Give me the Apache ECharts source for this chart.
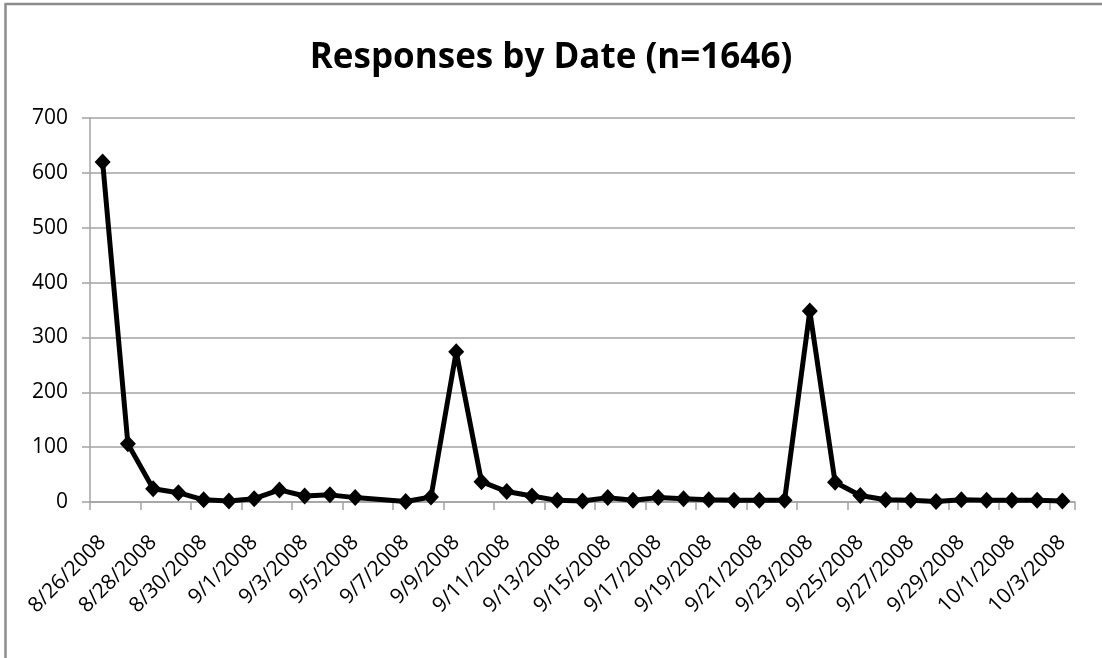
<!DOCTYPE html>
<html>
<head>
<meta charset="utf-8">
<title>Responses by Date</title>
<script src="https://cdn.jsdelivr.net/npm/echarts@6/dist/echarts.min.js"></script>
<style>
  html, body { margin: 0; padding: 0; background: #fff; }
  #chart { width: 1102px; height: 658px; }
</style>
</head>
<body>
<div id="chart"></div>
<script>
// One category per calendar day; 9/6/2008 had no responses recorded.
const dates = [
  '8/26/2008', '8/27/2008', '8/28/2008', '8/29/2008', '8/30/2008', '8/31/2008',
  '9/1/2008', '9/2/2008', '9/3/2008', '9/4/2008', '9/5/2008', '9/6/2008',
  '9/7/2008', '9/8/2008', '9/9/2008', '9/10/2008', '9/11/2008', '9/12/2008',
  '9/13/2008', '9/14/2008', '9/15/2008', '9/16/2008', '9/17/2008', '9/18/2008',
  '9/19/2008', '9/20/2008', '9/21/2008', '9/22/2008', '9/23/2008', '9/24/2008',
  '9/25/2008', '9/26/2008', '9/27/2008', '9/28/2008', '9/29/2008', '9/30/2008',
  '10/1/2008', '10/2/2008', '10/3/2008'
];

const responses = [
  620, 106, 24, 17, 4, 2,
  6, 22, 11, 13, 8, null,
  1, 9, 274, 37, 19, 11,
  3, 2, 8, 3, 8, 6,
  4, 3, 3, 3, 348, 36,
  12, 4, 3, 1, 4, 3,
  3, 3, 2
];

const yTicks = { min: 0, max: 700, step: 100 };

const titleText = 'Responses by Date (n=1646)';

const font = '"Open Sans", "Noto Sans", sans-serif';
const gridGray = '#a3a3a3';

const chart = echarts.init(document.getElementById('chart'), null, { renderer: 'canvas' });

chart.setOption({
  backgroundColor: '#ffffff',
  animation: false,
  title: {
    text: titleText,
    left: 'center',
    top: 36,
    textStyle: { fontFamily: font, fontSize: 35, fontWeight: 'bold', color: '#000' }
  },
  graphic: [
    // chart-area frame (left and top edges)
    { type: 'line', shape: { x1: 5.5, y1: 4, x2: 5.5, y2: 658 }, style: { stroke: '#8c8c8c', lineWidth: 2.5 } },
    { type: 'line', shape: { x1: 4.5, y1: 4, x2: 1102, y2: 4 }, style: { stroke: '#8c8c8c', lineWidth: 2.5 } }
  ],
  grid: { left: 90, right: 27, top: 118, bottom: 156 },
  xAxis: {
    type: 'category',
    data: dates,
    boundaryGap: true,
    axisLine: { show: true, lineStyle: { color: gridGray, width: 1.5 } },
    axisTick: { show: true, interval: 1, length: 8, lineStyle: { color: gridGray, width: 1.5 } },
    axisLabel: {
      interval: 1,
      rotate: 45,
      margin: 37,
      fontFamily: font,
      fontSize: 21,
      color: '#000'
    },
    splitLine: { show: false }
  },
  yAxis: {
    type: 'value',
    min: yTicks.min,
    max: yTicks.max,
    interval: yTicks.step,
    axisLine: { show: true, lineStyle: { color: gridGray, width: 1.5 } },
    axisTick: { show: true, length: 8, lineStyle: { color: gridGray, width: 1.5 } },
    axisLabel: { margin: 22, fontFamily: font, fontSize: 21, color: '#000' },
    splitLine: { show: true, lineStyle: { color: gridGray, width: 1.5 } }
  },
  series: [{
    name: 'Responses',
    type: 'line',
    data: responses,
    connectNulls: true,
    symbol: 'diamond',
    symbolSize: [16, 17],
    showAllSymbol: true,
    lineStyle: { color: '#000', width: 5 },
    itemStyle: { color: '#000' }
  }]
});
</script>
</body>
</html>
